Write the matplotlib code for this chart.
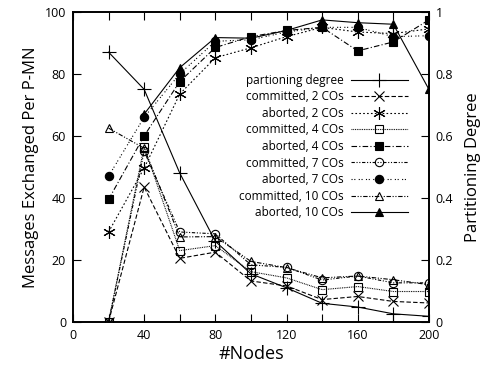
import numpy as np
import matplotlib
matplotlib.use('Agg')
import matplotlib.pyplot as plt

plt.rcParams['font.family'] = ['Open Sans', 'DejaVu Sans']

nodes = [20, 40, 60, 80, 100, 120, 140, 160, 180, 200]

# partitioning degree (right axis)
part_degree = [0.87, 0.75, 0.48, 0.26, 0.155, 0.11, 0.06, 0.048, 0.026, 0.018]

# messages exchanged per P-MN (left axis)
committed_2 = [0, 43.5, 20.5, 22.5, 13.2, 11.6, 7.2, 8.2, 6.6, 6.1]
aborted_2 = [29, 49.6, 73.5, 85.2, 88.4, 92, 95, 93.5, 93, 94.5]
committed_4 = [0, 56.5, 23, 24.6, 16.2, 14.2, 10.4, 11.4, 9.8, 9.8]
aborted_4 = [39.5, 60, 77.5, 88.5, 92, 94, 95, 87.4, 90.3, 97.4]
committed_7 = [0, 55, 29, 28.4, 18.4, 17.6, 13.5, 14.8, 12.6, 12.6]
aborted_7 = [47, 66, 80, 90.5, 91, 93.5, 95, 95, 92, 92.3]
committed_10 = [62.5, 56, 27.4, 27.5, 19.5, 17.5, 14.2, 14.8, 13.6, 12]
aborted_10 = [np.nan, 67, 82, 91.7, 91.5, 94, 97.4, 96.5, 96, 75]

fig = plt.figure(figsize=(4.93, 3.70), dpi=100)
ax = fig.add_axes([0.148, 0.130, 0.722, 0.838])
ax2 = ax.twinx()

lw = 0.8
ms = 6
k = 'black'

# data, label, marker, face colour, line style, marker size
series = [
    (committed_2, 'committed, 2 COs', 'x', 'none', (0, (4, 2)), 6.5),
    (aborted_2, 'aborted, 2 COs', (6, 2, 0), 'none', (0, (1.5, 2)), 9),
    (committed_4, 'committed, 4 COs', 's', 'none', (0, (0.8, 0.8)), ms),
    (aborted_4, 'aborted, 4 COs', 's', k, (0, (5, 2, 1, 2)), ms),
    (committed_7, 'committed, 7 COs', 'o', 'none', (0, (3, 1.5, 1, 1.5, 1, 1.5)), ms),
    (aborted_7, 'aborted, 7 COs', 'o', k, (0, (1, 1.5, 1, 3)), ms),
    (committed_10, 'committed, 10 COs', '^', 'none', (0, (4, 1.5, 1, 1.5, 1, 1.5)), ms),
    (aborted_10, 'aborted, 10 COs', '^', k, '-', ms),
]

handles = []
ph, = ax2.plot(nodes, part_degree, color=k, lw=lw, marker='+', ms=10,
               mew=0.8, label='partioning degree')
handles.append(ph)
for vals, lab, mk, fc, ls, size in series:
    h, = ax.plot(nodes, vals, color=k, lw=lw, ls=ls, marker=mk, ms=size,
                 mfc=fc, mec=k, mew=0.8, label=lab)
    handles.append(h)

ax.set_xlim(0, 200)
ax.set_ylim(0, 100)
ax2.set_ylim(0, 1)

ax.set_xticks(range(0, 201, 20))
ax.set_xticklabels([str(v) if v % 40 == 0 else '' for v in range(0, 201, 20)])
ax.set_yticks(range(0, 101, 20))
ax2.set_yticks([0, 0.2, 0.4, 0.6, 0.8, 1])
ax2.set_yticklabels(['0', '0.2', '0.4', '0.6', '0.8', '1'])

ax.tick_params(axis='x', direction='in', top=True, length=6, width=0.8,
               labelsize=9, pad=5)
ax.tick_params(axis='y', direction='in', length=6, width=0.8, labelsize=9, pad=5)
ax2.tick_params(axis='y', direction='in', length=6, width=0.8, labelsize=9, pad=5)
for a in (ax, ax2):
    for s in a.spines.values():
        s.set_linewidth(1.2)

ax.set_xlabel('#Nodes', fontsize=13, labelpad=2)
ax.set_ylabel('Messages Exchanged Per P-MN', fontsize=12, labelpad=4)
ax2.set_ylabel('Partitioning Degree', fontsize=12, labelpad=8)

ax2.legend(handles=handles, loc='upper right', bbox_to_anchor=(0.94, 0.80),
           frameon=False, markerfirst=False, fontsize=8.5, handlelength=4.8,
           handletextpad=0.6, labelspacing=0.3, borderaxespad=0, borderpad=0)

fig.savefig('out.png', dpi=100)
